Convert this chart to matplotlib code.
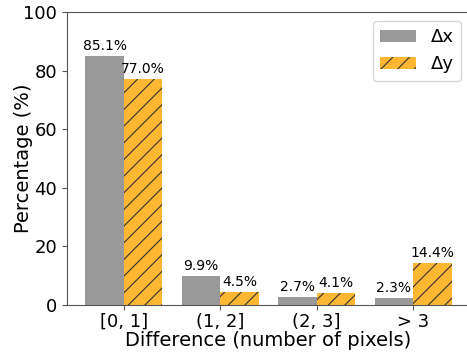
import matplotlib.pyplot as plt
import numpy as np

categories = ['[0, 1]', '(1, 2]', '(2, 3]', '> 3']
dx_pct = [85.1, 9.9, 2.7, 2.3]
dy_pct = [77.0, 4.5, 4.1, 14.4]

plt.rcParams['hatch.color'] = '#333333'
plt.rcParams['hatch.linewidth'] = 0.8

fig = plt.figure(figsize=(4.67, 3.54), dpi=100)
ax = fig.add_axes([67 / 467, 49 / 354, 403 / 467, 293 / 354])

x = np.arange(len(categories))
w = 0.4
b1 = ax.bar(x - w / 2, dx_pct, w, color='#999999', label='Δx')
b2 = ax.bar(x + w / 2, dy_pct, w, color='#ffb733', hatch='//', edgecolor='#333333',
            linewidth=0, label='Δy')

for bars, vals in ((b1, dx_pct), (b2, dy_pct)):
    for r, v in zip(bars, vals):
        ax.text(r.get_x() + r.get_width() / 2, v + 1, f'{v:.1f}%',
                ha='center', va='bottom', fontsize=10)

for s in ax.spines.values():
    s.set_color('#555555')
ax.set_ylim(0, 100)
ax.set_xticks(x)
ax.set_xticklabels(categories)
ax.tick_params(labelsize=13, color='#555555')
ax.tick_params(axis='x', pad=2)
ax.set_xlabel('Difference (number of pixels)', fontsize=14, labelpad=0)
ax.set_ylabel('Percentage (%)', fontsize=14)
ax.yaxis.set_label_coords(-0.085, 0.5)
ax.legend(fontsize=13, loc='upper right')

fig.savefig('out.png', dpi=100)
